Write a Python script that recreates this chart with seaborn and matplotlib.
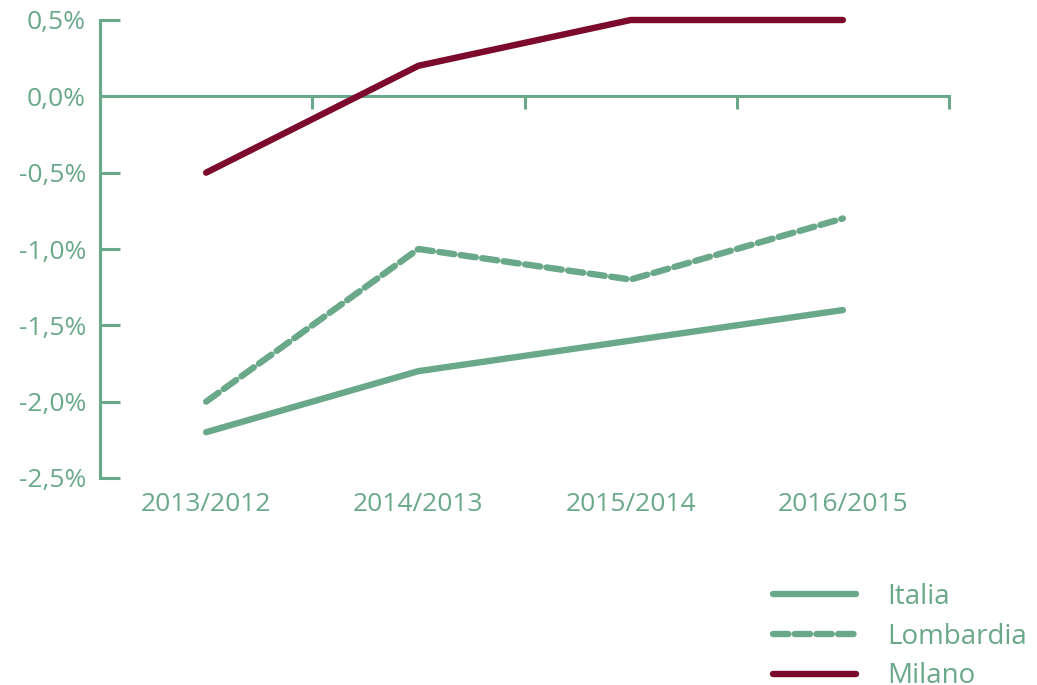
import pandas as pd
import numpy as np
import matplotlib.pyplot as plt
import seaborn as sns
from matplotlib.ticker import FuncFormatter

# data
periods = ['2013/2012', '2014/2013', '2015/2014', '2016/2015']
italia = [-2.2, -1.8, -1.6, -1.4]
lombardia = [-2.0, -1.0, -1.2, -0.8]
milano = [-0.5, 0.2, 0.5, 0.5]
y_ticks = [0.5, 0.0, -0.5, -1.0, -1.5, -2.0, -2.5]

green = '#6aa88a'
red = '#7b0a2c'

sns.set_theme(style='white')
plt.rcParams['font.family'] = ['Open Sans', 'DejaVu Sans']

df = pd.DataFrame({
    'periodo': periods * 3,
    'x': list(range(len(periods))) * 3,
    'valore': italia + lombardia + milano,
    'area': ['Italia'] * 4 + ['Lombardia'] * 4 + ['Milano'] * 4,
})

fig = plt.figure(figsize=(10.37, 6.85), dpi=100)
ax = fig.add_axes([100 / 1037, 1 - 478 / 685, 849 / 1037, 458 / 685])

sns.lineplot(data=df, x='x', y='valore', hue='area', style='area',
             palette={'Italia': green, 'Lombardia': green, 'Milano': red},
             dashes={'Italia': '', 'Lombardia': (2.4, 1.0), 'Milano': ''},
             linewidth=4.6, ax=ax, clip_on=False)
for ln in ax.lines:
    ln.set_solid_capstyle('round')
    ln.set_dash_capstyle('round')

ax.set_xlim(-0.5, 3.5)
ax.set_ylim(-2.5, 0.5)
ax.set_xlabel('')
ax.set_ylabel('')

# y axis
ax.set_yticks(y_ticks)
ax.yaxis.set_major_formatter(FuncFormatter(lambda v, p: f'{v:.1f}%'.replace('.', ',')))
ax.tick_params(axis='y', direction='in', length=14.5, width=2.2, color=green,
               labelcolor=green, labelsize=19, pad=10, left=True)

# x labels at the bottom
ax.set_xticks(range(len(periods)))
ax.set_xticklabels(periods)
ax.tick_params(axis='x', length=0, labelcolor=green, labelsize=19, pad=10)

for s in ['top', 'right', 'bottom']:
    ax.spines[s].set_visible(False)
ax.spines['left'].set_color(green)
ax.spines['left'].set_linewidth(2.2)

# zero line with boundary ticks
zero = ax.secondary_xaxis(2.5 / 3.0)
zero.set_xticks([0.5, 1.5, 2.5, 3.5])
zero.set_xticklabels([])
zero.xaxis.set_ticks_position('bottom')
zero.tick_params(axis='x', direction='out', length=9, width=2.2, color=green,
                 bottom=True, top=False)
for s in zero.spines.values():
    s.set_color(green)
    s.set_linewidth(2.2)

handles, labels = ax.get_legend_handles_labels()
ax.get_legend().remove()
for h in handles:
    h.set_solid_capstyle('round')
    h.set_dash_capstyle('round')
leg = fig.legend(handles, labels, loc='upper left',
                 bbox_to_anchor=(748 / 1037, 1 - 558 / 685),
                 frameon=False, fontsize=20, handlelength=3.0,
                 handletextpad=1.1, labelspacing=0.42)
for t in leg.get_texts():
    t.set_color(green)

fig.savefig('out.png', dpi=100)
